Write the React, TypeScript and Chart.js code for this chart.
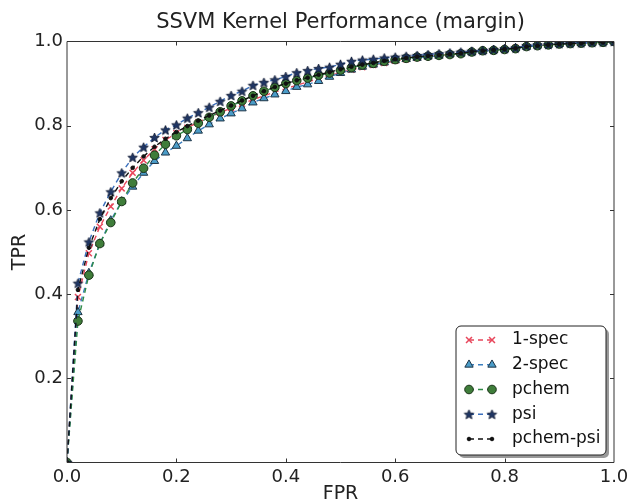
import { useEffect, useRef } from 'react';
import { Chart, registerables } from 'chart.js';

Chart.register(...registerables);

const FPR = [
  0, 0.02, 0.04, 0.06, 0.08, 0.1, 0.12, 0.14, 0.16, 0.18,
  0.2, 0.22, 0.24, 0.26, 0.28, 0.3, 0.32, 0.34, 0.36, 0.38,
  0.4, 0.42, 0.44, 0.46, 0.48, 0.5, 0.52, 0.54, 0.56, 0.58,
  0.6, 0.62, 0.64, 0.66, 0.68, 0.7, 0.72, 0.74, 0.76, 0.78,
  0.8, 0.82, 0.84, 0.86, 0.88, 0.9, 0.92, 0.94, 0.96, 0.98, 1.0,
];

const SPEC1 = [
  0, 0.393, 0.497, 0.56, 0.608, 0.651, 0.688, 0.718, 0.744, 0.766,
  0.782, 0.795, 0.808, 0.82, 0.831, 0.842, 0.852, 0.862, 0.871, 0.88,
  0.888, 0.896, 0.904, 0.912, 0.919, 0.926, 0.933, 0.939, 0.944, 0.949,
  0.954, 0.958, 0.961, 0.964, 0.967, 0.969, 0.972, 0.975, 0.978, 0.98,
  0.982, 0.985, 0.988, 0.99, 0.992, 0.994, 0.995, 0.996, 0.997, 0.998, 1.0,
];

const SPEC2 = [
  0, 0.357, 0.45, 0.52, 0.575, 0.62, 0.655, 0.688, 0.716, 0.736,
  0.752, 0.77, 0.788, 0.803, 0.817, 0.829, 0.841, 0.855, 0.865, 0.874,
  0.882, 0.892, 0.898, 0.906, 0.916, 0.925, 0.933, 0.94, 0.945, 0.95,
  0.955, 0.958, 0.961, 0.964, 0.966, 0.969, 0.971, 0.974, 0.977, 0.979,
  0.981, 0.984, 0.987, 0.99, 0.992, 0.994, 0.995, 0.996, 0.997, 0.998, 1.0,
];

const PCHEM = [
  0, 0.336, 0.445, 0.52, 0.57, 0.62, 0.664, 0.699, 0.73, 0.756,
  0.776, 0.791, 0.806, 0.82, 0.833, 0.847, 0.859, 0.871, 0.882, 0.891,
  0.9, 0.907, 0.913, 0.92, 0.925, 0.932, 0.938, 0.944, 0.948, 0.953,
  0.957, 0.96, 0.963, 0.965, 0.967, 0.969, 0.971, 0.975, 0.978, 0.979,
  0.981, 0.983, 0.988, 0.99, 0.992, 0.994, 0.995, 0.996, 0.997, 0.998, 1.0,
];

const PSI = [
  0, 0.426, 0.524, 0.593, 0.643, 0.688, 0.725, 0.749, 0.772, 0.79,
  0.802, 0.818, 0.831, 0.844, 0.858, 0.872, 0.882, 0.896, 0.903, 0.909,
  0.917, 0.926, 0.931, 0.936, 0.939, 0.946, 0.953, 0.956, 0.958, 0.961,
  0.963, 0.965, 0.967, 0.969, 0.971, 0.973, 0.975, 0.977, 0.979, 0.981,
  0.983, 0.985, 0.99, 0.992, 0.993, 0.995, 0.996, 0.997, 0.998, 0.999, 1.0,
];

const PCHEM_PSI = [
  0, 0.41, 0.51, 0.578, 0.628, 0.668, 0.7, 0.727, 0.75, 0.769,
  0.785, 0.799, 0.812, 0.824, 0.836, 0.848, 0.86, 0.871, 0.882, 0.892,
  0.9, 0.908, 0.914, 0.921, 0.927, 0.934, 0.94, 0.945, 0.949, 0.954,
  0.958, 0.961, 0.964, 0.966, 0.968, 0.97, 0.972, 0.976, 0.978, 0.98,
  0.982, 0.984, 0.988, 0.99, 0.992, 0.994, 0.995, 0.996, 0.997, 0.998, 1.0,
];

const SERIES_NAMES = ['1-spec', '2-spec', 'pchem', 'psi', 'pchem-psi'];
const SERIES_VALUES = [SPEC1, SPEC2, PCHEM, PSI, PCHEM_PSI];
const X_TICKS = [0, 0.2, 0.4, 0.6, 0.8, 1.0];
const Y_TICKS = [0, 0.2, 0.4, 0.6, 0.8, 1.0];
const Y_TICK_LABELS = ['', '0.2', '0.4', '0.6', '0.8', '1.0'];
const X_TICK_LABELS = ['0.0', '0.2', '0.4', '0.6', '0.8', '1.0'];

const TITLE = 'SSVM Kernel Performance (margin)';
const X_TITLE = 'FPR';
const Y_TITLE = 'TPR';

const FONT = "'DejaVu Sans', 'Liberation Sans', sans-serif";

type MarkerKind = 'x' | 'triangle' | 'circle' | 'star' | 'dot';

interface SeriesStyle {
  line: string;
  fill: string;
  edge: string;
  kind: MarkerKind;
  radius: number;
}

const STYLES: SeriesStyle[] = [
  { line: '#e8475c', fill: '#e8475c', edge: '#e8475c', kind: 'x', radius: 4.2 },
  { line: '#3b7fbf', fill: '#4a9cc8', edge: '#1d3446', kind: 'triangle', radius: 4.8 },
  { line: '#2f8a46', fill: '#3f7d3a', edge: '#1a3318', kind: 'circle', radius: 4.3 },
  { line: '#3a6fbd', fill: '#1f3563', edge: '#0c1630', kind: 'star', radius: 5 },
  { line: '#111111', fill: '#111111', edge: '#111111', kind: 'dot', radius: 1.8 },
];

function starPath(ctx: CanvasRenderingContext2D, cx: number, cy: number, ro: number, ri: number) {
  ctx.beginPath();
  for (let k = 0; k < 10; k++) {
    const r = k % 2 === 0 ? ro : ri;
    const a = -Math.PI / 2 + (k * Math.PI) / 5;
    const px = cx + r * Math.cos(a);
    const py = cy + r * Math.sin(a);
    if (k === 0) ctx.moveTo(px, py);
    else ctx.lineTo(px, py);
  }
  ctx.closePath();
}

function makeStar(s: SeriesStyle): HTMLCanvasElement {
  const c = document.createElement('canvas');
  c.width = 13;
  c.height = 13;
  const g = c.getContext('2d')!;
  starPath(g, 6.5, 7, s.radius, s.radius * 0.45);
  g.fillStyle = s.fill;
  g.fill();
  g.strokeStyle = s.edge;
  g.lineWidth = 0.8;
  g.stroke();
  return c;
}

function drawMarker(ctx: CanvasRenderingContext2D, s: SeriesStyle, x: number, y: number, star: HTMLCanvasElement) {
  ctx.save();
  ctx.setLineDash([]);
  const r = s.radius;
  if (s.kind === 'x') {
    ctx.strokeStyle = s.edge;
    ctx.lineWidth = 1.5;
    const d = r * 0.7071;
    ctx.beginPath();
    ctx.moveTo(x - d, y - d);
    ctx.lineTo(x + d, y + d);
    ctx.moveTo(x - d, y + d);
    ctx.lineTo(x + d, y - d);
    ctx.stroke();
  } else if (s.kind === 'triangle') {
    const e = (3 * r) / Math.sqrt(3);
    const h = (e * Math.sqrt(3)) / 2;
    ctx.beginPath();
    ctx.moveTo(x - e / 2, y + h / 3);
    ctx.lineTo(x + e / 2, y + h / 3);
    ctx.lineTo(x, y - (2 * h) / 3);
    ctx.closePath();
    ctx.fillStyle = s.fill;
    ctx.fill();
    ctx.strokeStyle = s.edge;
    ctx.lineWidth = 1;
    ctx.stroke();
  } else if (s.kind === 'circle' || s.kind === 'dot') {
    ctx.beginPath();
    ctx.arc(x, y, r, 0, Math.PI * 2);
    ctx.fillStyle = s.fill;
    ctx.fill();
    ctx.strokeStyle = s.edge;
    ctx.lineWidth = 1;
    ctx.stroke();
  } else if (s.kind === 'star') {
    ctx.drawImage(star, x - star.width / 2, y - star.height / 2);
  }
  ctx.restore();
}

function roundRect(ctx: CanvasRenderingContext2D, x: number, y: number, w: number, h: number, r: number) {
  ctx.beginPath();
  ctx.moveTo(x + r, y);
  ctx.lineTo(x + w - r, y);
  ctx.arcTo(x + w, y, x + w, y + r, r);
  ctx.lineTo(x + w, y + h - r);
  ctx.arcTo(x + w, y + h, x + w - r, y + h, r);
  ctx.lineTo(x + r, y + h);
  ctx.arcTo(x, y + h, x, y + h - r, r);
  ctx.lineTo(x, y + r);
  ctx.arcTo(x, y, x + r, y, r);
  ctx.closePath();
}

export default function App() {
  const ref = useRef<HTMLCanvasElement>(null);

  useEffect(() => {
    document.body.style.margin = '0';
    const canvas = ref.current!;
    const star = makeStar(STYLES[3]);

    const pointStyleFor = (s: SeriesStyle): any => {
      if (s.kind === 'x') return 'crossRot';
      if (s.kind === 'triangle') return 'triangle';
      if (s.kind === 'star') return star;
      return 'circle';
    };

    const datasets = SERIES_NAMES.map((name, i) => {
      const s = STYLES[i];
      return {
        label: name,
        data: FPR.map((x, j) => ({ x, y: SERIES_VALUES[i][j] })),
        borderColor: s.line,
        backgroundColor: s.fill,
        borderWidth: 1.4,
        borderDash: [5, 4],
        pointStyle: pointStyleFor(s),
        pointRadius: s.radius,
        pointBackgroundColor: s.fill,
        pointBorderColor: s.edge,
        pointBorderWidth: s.kind === 'x' ? 1.5 : 1,
        pointHoverRadius: s.radius,
        tension: 0,
        fill: false,
        clip: 0,
        order: SERIES_NAMES.length - i,
      };
    });

    const framePlugin = {
      id: 'frame',
      afterDatasetsDraw(chart: any) {
        const { ctx, chartArea } = chart;
        const { left, right, top, bottom } = chartArea;
        const xs = chart.scales.x;
        const ys = chart.scales.y;
        ctx.save();
        ctx.strokeStyle = '#333333';
        ctx.lineWidth = 1;
        ctx.setLineDash([]);
        ctx.beginPath();
        ctx.rect(left, top, right - left, bottom - top);
        ctx.stroke();
        const tl = 4;
        ctx.beginPath();
        X_TICKS.forEach((v) => {
          if (v <= 0 || v >= 1) return;
          const px = Math.round(xs.getPixelForValue(v)) + 0.5;
          ctx.moveTo(px, bottom);
          ctx.lineTo(px, bottom - tl);
          ctx.moveTo(px, top);
          ctx.lineTo(px, top + tl);
        });
        Y_TICKS.forEach((v) => {
          if (v <= 0 || v >= 1) return;
          const py = Math.round(ys.getPixelForValue(v)) + 0.5;
          ctx.moveTo(left, py);
          ctx.lineTo(left + tl, py);
          ctx.moveTo(right, py);
          ctx.lineTo(right - tl, py);
        });
        ctx.stroke();
        ctx.restore();
      },
    };

    const legendPlugin = {
      id: 'mplLegend',
      afterDraw(chart: any) {
        const ctx: CanvasRenderingContext2D = chart.ctx;
        const bx = 456;
        const by = 326;
        const bw = 150;
        const bh = 129;
        ctx.save();
        roundRect(ctx, bx + 3, by + 3, bw, bh, 5);
        ctx.fillStyle = 'rgba(70,70,70,0.55)';
        ctx.fill();
        roundRect(ctx, bx, by, bw, bh, 5);
        ctx.fillStyle = '#ffffff';
        ctx.fill();
        ctx.strokeStyle = '#222222';
        ctx.lineWidth = 1;
        ctx.stroke();
        SERIES_NAMES.forEach((name, i) => {
          const s = STYLES[i];
          const cy = 340 + i * 24.75;
          ctx.save();
          ctx.setLineDash([5, 4]);
          ctx.strokeStyle = s.line;
          ctx.lineWidth = 1.4;
          ctx.beginPath();
          ctx.moveTo(469, cy);
          ctx.lineTo(492, cy);
          ctx.stroke();
          ctx.restore();
          drawMarker(ctx, s, 469, cy, star);
          drawMarker(ctx, s, 492, cy, star);
          ctx.fillStyle = '#111111';
          ctx.font = `17px ${FONT}`;
          ctx.textAlign = 'left';
          ctx.textBaseline = 'middle';
          ctx.fillText(name, 512, cy);
        });
        ctx.restore();
      },
    };

    const bgPlugin = {
      id: 'bg',
      beforeDraw(chart: any) {
        const { ctx, width, height } = chart;
        ctx.save();
        ctx.fillStyle = '#ffffff';
        ctx.fillRect(0, 0, width, height);
        ctx.restore();
      },
    };

    const axisCommon = {
      type: 'linear' as const,
      min: 0,
      max: 1,
      grid: { display: false, drawTicks: false },
      border: { display: false },
    };

    const chart = new Chart(canvas, {
      type: 'line',
      data: { datasets: datasets as any },
      options: {
        responsive: false,
        animation: false,
        events: [],
        layout: { padding: { left: 0, right: 19, top: 0, bottom: 0 } },
        plugins: {
          legend: { display: false },
          tooltip: { enabled: false },
          title: {
            display: true,
            text: TITLE,
            fullSize: false,
            color: '#222222',
            font: { family: FONT, size: 21, weight: 'normal', lineHeight: 1.2 },
            padding: { top: 10, bottom: 6.3 },
          },
        },
        scales: {
          x: {
            ...axisCommon,
            afterBuildTicks(scale: any) {
              scale.ticks = X_TICKS.map((v) => ({ value: v }));
            },
            afterTickToLabelConversion(scale: any) {
              scale.ticks.forEach((t: any, k: number) => (t.label = X_TICK_LABELS[k]));
            },
            afterFit(scale: any) {
              scale.height = 40.5;
            },
            ticks: {
              color: '#222222',
              font: { family: FONT, size: 18 },
              padding: 4,
              maxRotation: 0,
              autoSkip: false,
            },
            title: {
              display: true,
              text: X_TITLE,
              color: '#222222',
              font: { family: FONT, size: 19, lineHeight: 1 },
              padding: { top: 0, bottom: -1 },
            },
          },
          y: {
            ...axisCommon,
            afterBuildTicks(scale: any) {
              scale.ticks = Y_TICKS.map((v) => ({ value: v }));
            },
            afterTickToLabelConversion(scale: any) {
              scale.ticks.forEach((t: any, k: number) => (t.label = Y_TICK_LABELS[k]));
            },
            afterFit(scale: any) {
              scale.width = 67;
            },
            ticks: {
              color: '#222222',
              font: { family: FONT, size: 18 },
              padding: 4,
              autoSkip: false,
            },
            title: {
              display: true,
              text: Y_TITLE,
              color: '#222222',
              font: { family: FONT, size: 19, lineHeight: 1 },
              padding: { top: 11, bottom: 0 },
            },
          },
        },
      } as any,
      plugins: [bgPlugin, framePlugin, legendPlugin],
    });

    return () => chart.destroy();
  }, []);

  return (
    <div style={{ width: 633, height: 503 }}>
      <canvas ref={ref} width={633} height={503} style={{ display: 'block' }} />
    </div>
  );
}
